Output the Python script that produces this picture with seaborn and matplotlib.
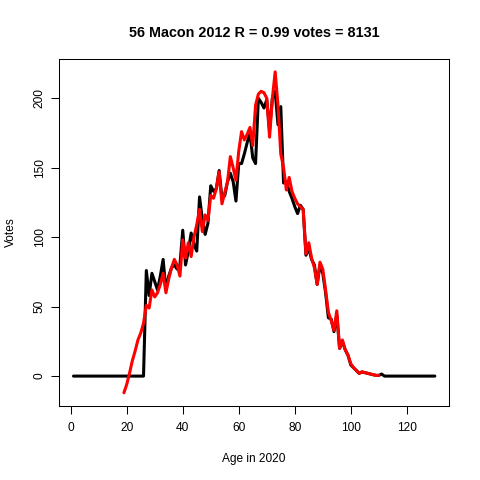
import numpy as np
import pandas as pd
import matplotlib
matplotlib.use("Agg")
import matplotlib.pyplot as plt
import seaborn as sns

# observed votes by age (black), ages 1..130
actual_ages = list(range(1, 131))
actual_votes = [0] * 26 + [
    76, 58, 74, 68, 62, 72, 84, 62, 72, 78, 80, 77, 80,          # 27-39
    105, 80, 90, 103, 95, 90, 129, 113, 102, 110,                # 40-49
    137, 133, 135, 148, 128, 130, 140, 146, 140, 126,            # 50-59
    153, 153, 160, 168, 175, 157, 153, 200, 197, 193,            # 60-69
    199, 177, 200, 205, 181, 194, 139, 140, 133, 128,            # 70-79
    122, 117, 123, 120, 87, 92, 84, 80, 66, 80,                  # 80-89
    74, 60, 42, 41, 32, 44, 20, 25, 19, 15,                      # 90-99
    8, 6, 4, 2, 3, 2.5, 2, 1.5, 1, 0.5,                          # 100-109
    0.5, 1.5] + [0] * 19                                          # 110-130

# model estimate (red), ages 19..110
model_ages = list(range(19, 111))
model_votes = [
    -12, -6, 2, 11, 18, 26, 31, 38, 51, 49, 62,                  # 19-29
    57, 60, 66, 74, 60, 70, 78, 84, 80, 72,                      # 30-39
    98, 85, 96, 86, 100, 109, 120, 104, 116, 112,                # 40-49
    130, 128, 135, 147, 124, 132, 140, 158, 150, 141,            # 50-59
    162, 176, 170, 174, 179, 166, 195, 203, 205, 204,            # 60-69
    200, 172, 200, 219, 195, 160, 150, 134, 143, 133,            # 70-79
    128, 124, 122, 120, 88, 96, 85, 78, 66, 82,                  # 80-89
    77, 62, 46, 40, 33, 47, 20, 26, 19, 15,                      # 90-99
    9, 6, 4, 2, 3, 2.5, 2, 1.5, 1, 0.5, 0.5]                     # 100-110

title = "56 Macon 2012 R = 0.99 votes = 8131"

sns.set_theme(style="white")
plt.rcParams['font.family'] = ['Liberation Sans', 'DejaVu Sans']

actual = pd.DataFrame({"age": actual_ages, "votes": actual_votes})
model = pd.DataFrame({"age": model_ages, "votes": model_votes})

fig = plt.figure(figsize=(4.8, 4.8), dpi=100)
ax = fig.add_axes([0.123, 0.155, 0.813, 0.722])

sns.lineplot(data=actual, x="age", y="votes", color="black", linewidth=2.2, ax=ax)
sns.lineplot(data=model, x="age", y="votes", color="red", linewidth=2.2, ax=ax)

xr = 130 - 1
ax.set_xlim(1 - 0.04 * xr, 130 + 0.04 * xr)
yr = 219 - (-12)
ax.set_ylim(-12 - 0.04 * yr, 219 + 0.04 * yr)

ax.set_xticks(range(0, 121, 20))
ax.set_yticks(range(0, 201, 50))
ax.tick_params(axis="both", direction="out", length=5.5, width=0.75,
               color="black", labelsize=8.6, labelcolor="black", pad=6,
               bottom=True, left=True)
ax.tick_params(axis="y", pad=4)
for lab in ax.get_yticklabels():
    lab.set_rotation(90)
    lab.set_va("center")

for s in ax.spines.values():
    s.set_color("black")
    s.set_linewidth(0.75)

ax.set_xlabel("Age in 2020", fontsize=8.6, labelpad=14, color="black")
ax.set_ylabel("Votes", fontsize=8.6, labelpad=12, color="black")
ax.set_title(title, fontsize=10.4, fontweight="bold", pad=16, color="black")

fig.savefig("out.png", dpi=100)
